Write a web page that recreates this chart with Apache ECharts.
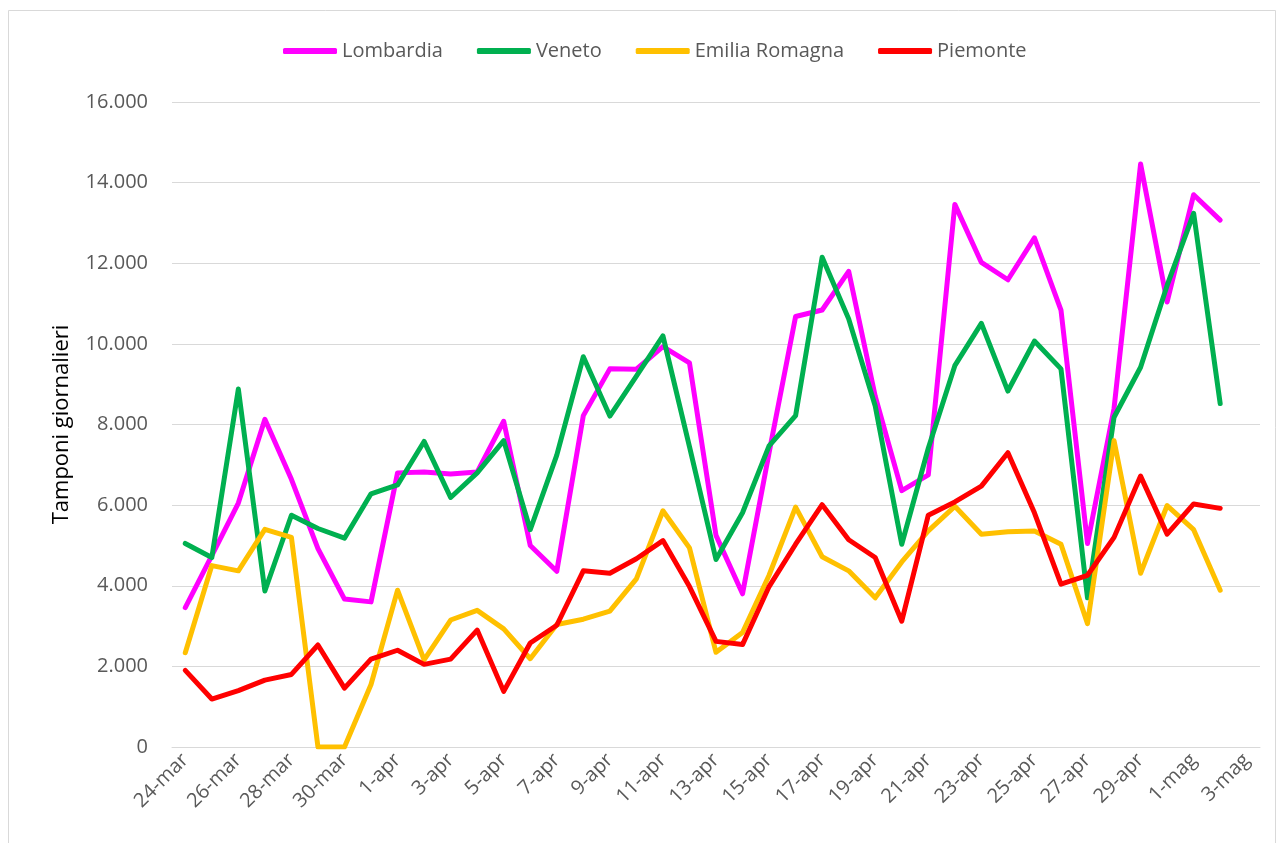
<!DOCTYPE html>
<html>
<head>
<meta charset="utf-8">
<script src="https://cdn.jsdelivr.net/npm/echarts@6/dist/echarts.min.js"></script>
<style>
html,body{margin:0;padding:0;background:#fff;}
#chart{width:1282px;height:843px;}
</style>
</head>
<body>
<div id="chart"></div>
<script>
const categories = [
  '24-mar','25-mar','26-mar','27-mar','28-mar','29-mar','30-mar','31-mar',
  '1-apr','2-apr','3-apr','4-apr','5-apr','6-apr','7-apr','8-apr','9-apr','10-apr',
  '11-apr','12-apr','13-apr','14-apr','15-apr','16-apr','17-apr','18-apr','19-apr','20-apr',
  '21-apr','22-apr','23-apr','24-apr','25-apr','26-apr','27-apr','28-apr','29-apr','30-apr',
  '1-mag','2-mag','3-mag'
];
const lombardia = [3460,4750,6050,8130,6640,4920,3670,3600,6800,6820,6770,6820,8080,5000,4360,8220,9380,9370,9930,9530,5250,3800,7300,10680,10840,11800,8700,6360,6750,13460,12020,11590,12630,10840,5050,8400,14460,11040,13700,13070,null];
const veneto = [5050,4700,8880,3870,5750,5420,5180,6280,6500,7580,6190,6800,7600,5390,7240,9680,8210,9200,10200,7450,4650,5810,7470,8220,12150,10620,8460,5030,7410,9460,10510,8830,10070,9380,3700,8180,9420,11450,13240,8520,null];
const emilia = [2340,4500,4370,5400,5200,0,0,1550,3890,2160,3150,3390,2930,2190,3040,3170,3370,4170,5860,4940,2350,2840,4260,5950,4720,4370,3700,4590,5360,5970,5280,5340,5360,5030,3060,7600,4310,5990,5390,3890,null];
const piemonte = [1900,1190,1400,1660,1800,2530,1460,2180,2400,2050,2180,2900,1380,2580,3020,4370,4310,4670,5120,3980,2620,2540,3980,5030,6010,5140,4700,3120,5750,6080,6470,7300,5810,4040,4260,5200,6720,5280,6030,5920,null];
const seriesNames = ['Lombardia','Veneto','Emilia Romagna','Piemonte'];
const seriesColors = ['#FF00FF','#00B050','#FFC000','#FF0000'];
const seriesData = [lombardia, veneto, emilia, piemonte];

const FONT = '"Open Sans", Lato, sans-serif';
function fmt(v){ return String(v).replace(/\B(?=(\d{3})+(?!\d))/g,'.'); }

const chart = echarts.init(document.getElementById('chart'));
chart.setOption({
  animation:false,
  backgroundColor:'#fff',
  graphic:[{type:'rect',shape:{x:8.5,y:10.5,width:1267,height:850},style:{fill:null,stroke:'#D9D9D9',lineWidth:1},silent:true}],
  legend:{
    top:36, left:278,
    itemWidth:54, itemHeight:6, itemGap:34,
    icon:'roundRect',
    textStyle:{fontFamily:FONT,fontSize:20,color:'#595959'},
    data:seriesNames
  },
  grid:{left:172,right:22,top:102,bottom:96,containLabel:false},
  xAxis:{
    type:'category',
    data:categories,
    boundaryGap:true,
    axisLine:{show:true,lineStyle:{color:'#D9D9D9',width:1}},
    axisTick:{show:false},
    axisLabel:{interval:1,rotate:45,fontFamily:FONT,fontSize:20,color:'#595959',margin:10}
  },
  yAxis:{
    type:'value',min:0,max:16000,interval:2000,
    name:'Tamponi giornalieri',nameLocation:'middle',nameGap:99,
    nameTextStyle:{fontFamily:FONT,fontSize:22,color:'#000'},
    axisLine:{show:false},axisTick:{show:false},
    splitLine:{lineStyle:{color:'#D9D9D9',width:1}},
    axisLabel:{fontFamily:FONT,fontSize:20,color:'#595959',margin:24,formatter:fmt}
  },
  series: seriesNames.map((n,i)=>({
    name:n,type:'line',data:seriesData[i],
    showSymbol:false,symbol:'none',
    lineStyle:{color:seriesColors[i],width:5,cap:'round',join:'round'},
    itemStyle:{color:seriesColors[i]}
  }))
});
</script>
</body>
</html>
